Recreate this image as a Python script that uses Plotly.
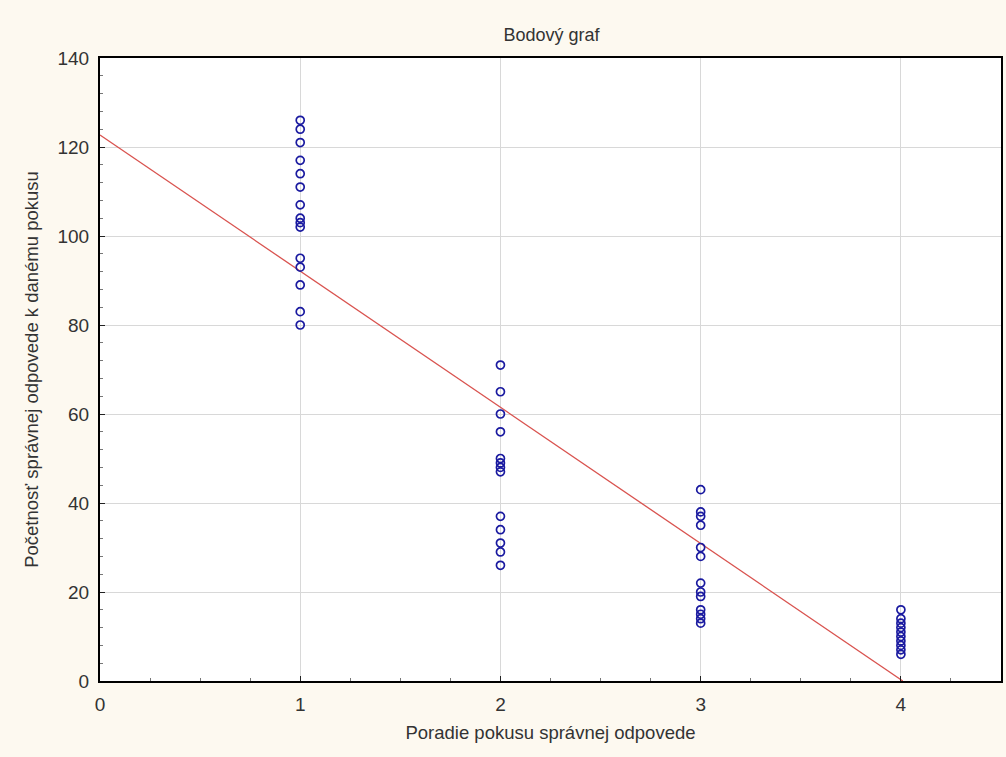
import plotly.graph_objects as go

attempt = [1]*15 + [2]*13 + [3]*13 + [4]*10
counts = [126, 124, 121, 117, 114, 111, 107, 104, 103, 102, 95, 93, 89, 83, 80,
          71, 65, 60, 56, 50, 49, 48, 47, 37, 34, 31, 29, 26,
          43, 38, 37, 35, 30, 28, 22, 20, 19, 16, 15, 14, 13,
          16, 14, 13, 12, 11, 10, 9, 8, 7, 6]
line_intercept = 122.7
line_slope = -30.6

x_end = -line_intercept / line_slope
fit_x = [0, x_end]
fit_y = [line_intercept + line_slope * v for v in fit_x]

fig = go.Figure()
fig.add_trace(go.Scatter(x=fit_x, y=fit_y, mode="lines",
                         line=dict(color="#D9534F", width=1.3), hoverinfo="skip",
                         showlegend=False))
fig.add_trace(go.Scatter(x=attempt, y=counts, mode="markers",
                         marker=dict(symbol="circle-open", size=8, color="#1A1AA0",
                                     line=dict(width=1.7, color="#1A1AA0")),
                         showlegend=False))

font = "Liberation Sans, Arial, sans-serif"
fig.update_layout(
    width=1006, height=757,
    paper_bgcolor="#FDF9F0", plot_bgcolor="#FFFFFF",
    margin=dict(l=100, r=3, t=58, b=76),
    font=dict(family=font, color="#333333", size=18),
    title=dict(text="Bodový graf", x=(100 + 1003) / 2 / 1006, xanchor="center",
               y=1 - 35 / 757, yanchor="middle", font=dict(size=18, family=font)),
    xaxis=dict(range=[0, 4.5], tickvals=[0, 1, 2, 3, 4], showgrid=True,
               gridcolor="#D8D8D8", gridwidth=1, zeroline=False,
               showline=True, linecolor="#000000", linewidth=2, mirror=True,
               ticks="inside", ticklen=5, tickcolor="#222222", ticklabelstandoff=5,
               minor=dict(dtick=0.25, ticks="inside", ticklen=3, tickcolor="#777777", showgrid=False),
               title=dict(text="Poradie pokusu správnej odpovede", standoff=12,
                          font=dict(size=18.5)),
               tickfont=dict(size=19)),
    yaxis=dict(range=[0, 140], tickvals=[0, 20, 40, 60, 80, 100, 120, 140], showgrid=True,
               gridcolor="#D8D8D8", gridwidth=1, zeroline=False,
               showline=True, linecolor="#000000", linewidth=2, mirror=True,
               ticks="inside", ticklen=5, tickcolor="#222222", ticklabelstandoff=5,
               minor=dict(dtick=4, ticks="inside", ticklen=3, tickcolor="#777777", showgrid=False),
               title=dict(text="Početnosť správnej odpovede k danému pokusu", standoff=14,
                          font=dict(size=18.5)),
               tickfont=dict(size=19)),
)

fig.write_html("out.html")
